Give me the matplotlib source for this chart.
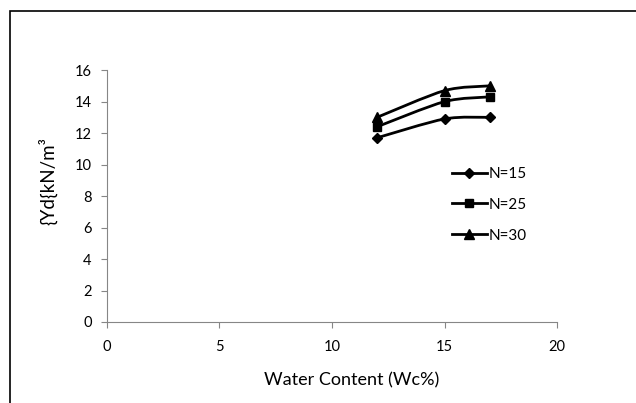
import matplotlib

matplotlib.use("Agg")
import matplotlib.pyplot as plt
import numpy as np
from matplotlib.path import Path
from matplotlib.patches import PathPatch, Rectangle

plt.rcParams["font.family"] = ["Lato", "DejaVu Sans"]

water = [12, 15, 17]
n15 = [11.7, 12.9, 13.0]
n25 = [12.4, 14.0, 14.3]
n30 = [13.0, 14.7, 15.0]
series = [("N=15", n15, "D", 5), ("N=25", n25, "s", 6), ("N=30", n30, "^", 7)]


def smooth_path(x, y, k=7):
    # Excel-like smoothed line: Catmull-Rom segments as cubic Beziers
    x = np.asarray(x, float); y = np.asarray(y, float)
    verts = [(x[0], y[0])]; codes = [Path.MOVETO]
    n = len(x)
    for i in range(n - 1):
        p0 = (x[max(i - 1, 0)], y[max(i - 1, 0)])
        p1 = (x[i], y[i]); p2 = (x[i + 1], y[i + 1])
        p3 = (x[min(i + 2, n - 1)], y[min(i + 2, n - 1)])
        c1 = (p1[0] + (p2[0] - p0[0]) / k, p1[1] + (p2[1] - p0[1]) / k)
        c2 = (p2[0] - (p3[0] - p1[0]) / k, p2[1] - (p3[1] - p1[1]) / k)
        verts += [c1, c2, p2]; codes += [Path.CURVE4] * 3
    return Path(verts, codes)


fig = plt.figure(figsize=(6.36, 4.03), dpi=100)
ax = fig.add_axes([0.168, 0.201, 0.708, 0.625])

for label, vals, mk, ms in series:
    ax.add_patch(PathPatch(smooth_path(water, vals), fill=False, lw=2, color="black"))
    ax.plot(water, vals, ls="none", marker=mk, ms=ms, color="black")
    ax.plot([], [], color="black", lw=2, marker=mk, ms=ms, label=label)

ax.set_xlim(0, 20)
ax.set_ylim(0, 16)
ax.set_xticks(range(0, 21, 5))
ax.set_yticks(range(0, 17, 2))
for s in ("top", "right"):
    ax.spines[s].set_visible(False)
for s in ("left", "bottom"):
    ax.spines[s].set_color("#868686")
ax.tick_params(direction="out", length=4, color="#868686", labelsize=10.5, pad=7)
ax.tick_params(axis="x", pad=9)
ax.set_xlabel("Water Content (Wc%)", fontsize=13)
ax.xaxis.set_label_coords(0.544, -0.2)
ax.set_ylabel("{Yd{kN/m³", fontsize=13.5)
ax.yaxis.set_label_coords(-0.11, 0.56)

ax.legend(loc="upper left", bbox_to_anchor=(0.735, 0.67), frameon=False,
          fontsize=11, handlelength=2.3, handletextpad=0.1, labelspacing=1.1)

fig.add_artist(Rectangle((10 / 636, -0.1), 1.2, 1 - 11 / 403 + 0.1, transform=fig.transFigure,
                         fill=False, lw=1.2, color="black"))

fig.savefig("out.png", dpi=100)
